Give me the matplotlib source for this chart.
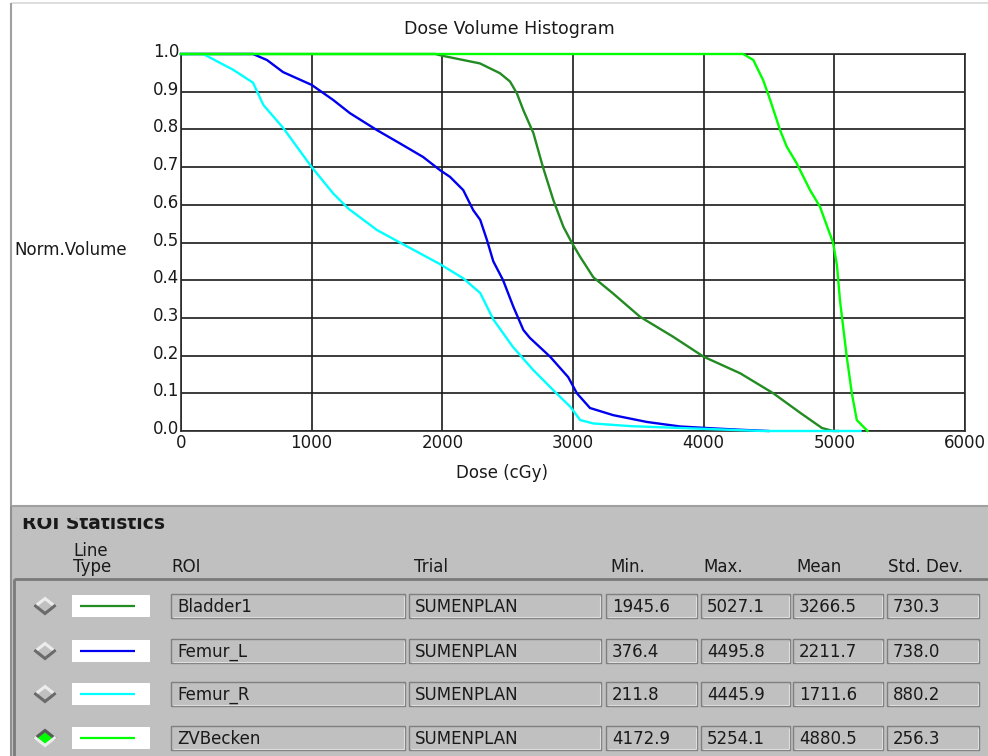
import matplotlib
matplotlib.use("Agg")
import matplotlib.pyplot as plt
from matplotlib.patches import Rectangle, Polygon
from matplotlib.lines import Line2D
from matplotlib.transforms import Affine2D, Bbox, TransformedBbox, ScaledTranslation

plt.rcParams['font.family'] = ['DejaVu Sans']

# ---------------- data ----------------
roi_names = ["Bladder1", "Femur_L", "Femur_R", "ZVBecken"]
trial_names = ["SUMENPLAN", "SUMENPLAN", "SUMENPLAN", "SUMENPLAN"]
min_dose = ["1945.6", "376.4", "211.8", "4172.9"]
max_dose = ["5027.1", "4495.8", "4445.9", "5254.1"]
mean_dose = ["3266.5", "2211.7", "1711.6", "4880.5"]
std_dose = ["730.3", "738.0", "880.2", "256.3"]
colors = ["#228b22", "#0000ee", "#00ffff", "#00ff00"]
selected = [False, False, False, True]

bladder_dose = [0, 1946, 2005, 2288, 2441, 2518, 2570, 2620, 2697, 2770, 2850, 2926,
                2990, 3053, 3155, 3306, 3513, 3766, 4000, 4280, 4533, 4740, 4905, 4990, 5027]
bladder_vol = [1.0, 1.0, 0.995, 0.975, 0.949, 0.927, 0.896, 0.851, 0.79, 0.70, 0.612, 0.542,
               0.50, 0.463, 0.408, 0.365, 0.303, 0.25, 0.197, 0.153, 0.10, 0.048, 0.008, 0.0, 0.0]

femur_l_dose = [0, 376, 551, 658, 781, 1000, 1165, 1293, 1500, 1675, 1852, 1982, 2059, 2160,
                2236, 2290, 2342, 2390, 2465, 2543, 2620, 2670, 2825, 2963, 3030, 3130, 3308,
                3565, 3820, 4070, 4300, 4496]
femur_l_vol = [1.0, 1.0, 1.0, 0.984, 0.952, 0.918, 0.878, 0.843, 0.798, 0.763, 0.727, 0.692,
               0.674, 0.639, 0.586, 0.56, 0.506, 0.45, 0.40, 0.33, 0.268, 0.247, 0.197, 0.143,
               0.10, 0.061, 0.042, 0.024, 0.012, 0.007, 0.003, 0.0]

femur_r_dose = [0, 170, 400, 551, 630, 784, 1000, 1165, 1280, 1500, 1675, 1980, 2160, 2290,
                2390, 2540, 2695, 2850, 2980, 3055, 3155, 3436, 3820, 4446, 5200]
femur_r_vol = [1.0, 1.0, 0.958, 0.924, 0.865, 0.803, 0.70, 0.63, 0.59, 0.533, 0.50, 0.443,
               0.405, 0.366, 0.296, 0.223, 0.162, 0.108, 0.064, 0.029, 0.02, 0.013, 0.008, 0.0, 0.0]

zvbecken_dose = [0, 4173, 4303, 4380, 4456, 4510, 4585, 4636, 4712, 4814, 4890, 4955, 4990,
                 5020, 5043, 5095, 5134, 5172, 5254]
zvbecken_vol = [1.0, 1.0, 1.0, 0.984, 0.93, 0.877, 0.798, 0.754, 0.71, 0.639, 0.595, 0.533,
                0.50, 0.44, 0.347, 0.197, 0.10, 0.029, 0.0]

curves = [(bladder_dose, bladder_vol), (femur_l_dose, femur_l_vol),
          (femur_r_dose, femur_r_vol), (zvbecken_dose, zvbecken_vol)]

x_ticks = [0, 1000, 2000, 3000, 4000, 5000, 6000]
y_ticks = [0.0, 0.1, 0.2, 0.3, 0.4, 0.5, 0.6, 0.7, 0.8, 0.9, 1.0]

# ---------------- figure ----------------
W, H = 988, 756
fig = plt.figure(figsize=(W / 100, H / 100), dpi=100, facecolor="white")
P = Affine2D().scale(1 / W, -1 / H).translate(0, 1) + fig.transFigure  # pixel coords (top-left origin)

TXT = "#1a1a1a"
FS = 12

def line(x0, y0, x1, y1, c, lw):
    fig.add_artist(Line2D([x0, x1], [y0, y1], color=c, lw=lw, transform=P, solid_capstyle="butt"))

# top panel borders
line(11, 3, W, 3, "#d8d8d8", 1.2)
line(11, 3, 11, 506, "#a0a0a0", 1.5)

# axes
ax = fig.add_axes([181 / W, 1 - 431 / H, 784 / W, 377 / H])
for (d, v), c in zip(curves, colors):
    ax.plot(d, v, color=c, lw=1.7, clip_on=False, zorder=3)
ax.set_xlim(0, 6000)
ax.set_ylim(0, 1.0)
ax.set_xticks(x_ticks)
ax.set_yticks(y_ticks)
ax.set_xticklabels([str(t) for t in x_ticks])
ax.set_yticklabels([f"{t:.1f}" for t in y_ticks])
ax.tick_params(length=0, labelsize=FS, colors=TXT, pad=1)
ax.tick_params(axis="x", pad=2.5)
ax.grid(True, color="#1a1a1a", lw=1.2)
ax.set_axisbelow(True)
for s in ax.spines.values():
    s.set_color("#2a2a2a")
    s.set_linewidth(1.2)
off = ScaledTranslation(0, 4 / 100, fig.dpi_scale_trans)
for lab in ax.get_yticklabels():
    lab.set_transform(lab.get_transform() + off)

fig.text(509, 29, "Dose Volume Histogram", transform=P, ha="center", va="center",
         fontsize=12.5, color=TXT)
fig.text(14, 250, "Norm.Volume", transform=P, ha="left", va="center", fontsize=FS, color=TXT)
fig.text(502, 473, "Dose (cGy)", transform=P, ha="center", va="center", fontsize=FS, color=TXT)

# bottom panel
fig.add_artist(Rectangle((11, 506), W - 11, H - 506, transform=P, facecolor="#c0c0c0",
                         edgecolor="none"))
line(11, 506, W, 506, "#a0a0a0", 1.5)
line(11, 506, 11, H, "#909090", 1.5)

t = fig.text(22, 529, "ROI Statistics", transform=P, ha="left", va="baseline",
             fontsize=13.5, fontweight="bold", color=TXT)
t.set_clip_box(TransformedBbox(Bbox([[0, 518], [W, H]]), P))
t.set_clip_on(True)

fig.text(73, 559, "Line\nType", transform=P, ha="left", va="center", fontsize=FS,
         color=TXT, linespacing=0.8)
for x, s in [(171, "ROI"), (414, "Trial"), (610, "Min."), (703, "Max."), (796, "Mean"),
             (888, "Std. Dev.")]:
    fig.text(x, 567, s, transform=P, ha="left", va="center", fontsize=FS, color=TXT)

# sunken frame
line(14, 579, W, 579, "#7a7a7a", 2)
line(14, 579, 14, H, "#7a7a7a", 2)

row_y = [606, 651, 694, 738]
boxes = [(171, 405), (409, 601), (606, 697), (701, 790), (793, 883), (887, 979)]

def field(x0, x1, yc, text):
    y0, y1 = yc - 12, yc + 12
    fig.add_artist(Rectangle((x0, y0), x1 - x0, y1 - y0, transform=P, facecolor="#c0c0c0",
                             edgecolor="#7f7f7f", lw=1.0))
    line(x0 + 1.5, y1 - 1.5, x1 - 1.5, y1 - 1.5, "#dedede", 0.8)
    line(x1 - 1.5, y0 + 1.5, x1 - 1.5, y1 - 1.5, "#dedede", 0.8)
    fig.text(x0 + 6, yc + 1, text, transform=P, ha="left", va="center", fontsize=FS, color=TXT)

for i, yc in enumerate(row_y):
    # diamond
    cx, hw, hh = 45, 9.5, 7.5
    fill = colors[i] if selected[i] else "#c0c0c0"
    fig.add_artist(Polygon([(cx - hw, yc), (cx, yc - hh), (cx + hw, yc), (cx, yc + hh)],
                           closed=True, transform=P, facecolor=fill, edgecolor="none"))
    if selected[i]:
        top_c, bot_c = "#5a5a5a", "#ececec"
    else:
        top_c, bot_c = "#ececec", "#6a6a6a"
    fig.add_artist(Line2D([cx - hw, cx, cx + hw], [yc, yc - hh, yc], transform=P, color=top_c,
                          lw=2.2, solid_joinstyle="miter"))
    fig.add_artist(Line2D([cx - hw, cx, cx + hw], [yc, yc + hh, yc], transform=P, color=bot_c,
                          lw=2.2, solid_joinstyle="miter"))
    # line type swatch
    fig.add_artist(Rectangle((72, yc - 11), 78, 22, transform=P, facecolor="white", edgecolor="none"))
    line(80, yc, 135, yc, colors[i], 1.6)
    vals = [roi_names[i], trial_names[i], min_dose[i], max_dose[i], mean_dose[i], std_dose[i]]
    for (x0, x1), s in zip(boxes, vals):
        field(x0, x1, yc, s)

fig.savefig("out.png", dpi=100, facecolor="white")
